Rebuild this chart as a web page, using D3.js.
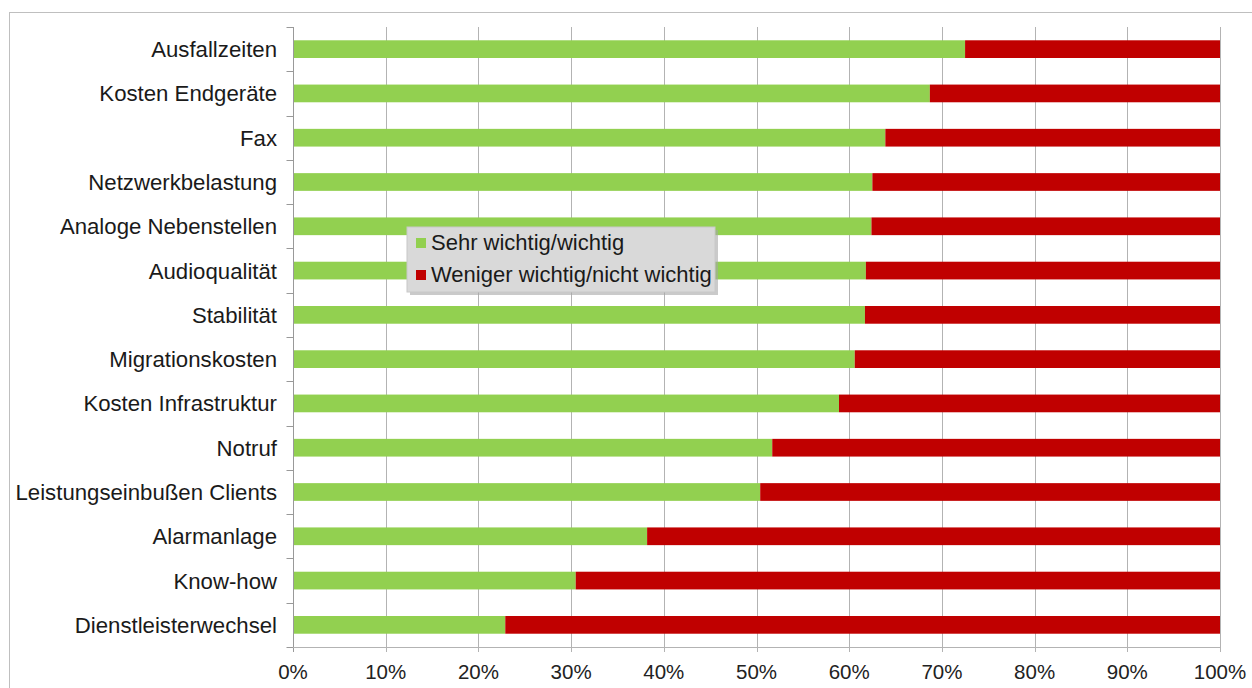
<!DOCTYPE html>
<html><head><meta charset="utf-8">
<script src="https://cdn.jsdelivr.net/npm/d3@7"></script>
<style>body{margin:0;background:#fff;}svg{display:block;font-family:"Liberation Sans",Arial,sans-serif;}</style>
</head><body>
<svg id="c" width="1252" height="688"></svg>
<script>
const categories = ["Ausfallzeiten","Kosten Endgeräte","Fax","Netzwerkbelastung","Analoge Nebenstellen","Audioqualität","Stabilität","Migrationskosten","Kosten Infrastruktur","Notruf","Leistungseinbußen Clients","Alarmanlage","Know-how","Dienstleisterwechsel"];
const sehrWichtig = [72.5,68.7,63.9,62.5,62.4,61.8,61.7,60.6,58.9,51.7,50.4,38.2,30.5,22.9];
const wenigerWichtig = [27.5,31.3,36.1,37.5,37.6,38.2,38.3,39.4,41.1,48.3,49.6,61.8,69.5,77.1];
const seriesNames = ["Sehr wichtig/wichtig","Weniger wichtig/nicht wichtig"];
const colors = ["#92d050","#c00000"];
const xTicks = [0,10,20,30,40,50,60,70,80,90,100];

const svg = d3.select("#c");
const m = {left:293, right:1220, top:27, bottom:647};
svg.append("rect").attr("x",9.5).attr("y",12.5).attr("width",1260).attr("height",700)
  .attr("fill","#fff").attr("stroke","#bfbfbf").attr("stroke-width",1);

const x = d3.scaleLinear().domain([0,100]).range([m.left,m.right]);
const y = d3.scaleBand().domain(categories).range([m.top,m.bottom]).paddingInner(0.6).paddingOuter(0.3);

// gridlines
svg.append("g").selectAll("line").data(xTicks.slice(1)).join("line")
  .attr("x1",d=>Math.round(x(d))+0.5).attr("x2",d=>Math.round(x(d))+0.5)
  .attr("y1",m.top).attr("y2",m.bottom+5).attr("stroke","#b3b3b3").attr("stroke-width",1);

// stacked bars
const rows = categories.map((c,i)=>({c, a:sehrWichtig[i], b:wenigerWichtig[i]}));
const stack = d3.stack().keys(["a","b"])(rows);
svg.append("g").selectAll("g").data(stack).join("g").attr("fill",(d,i)=>colors[i])
  .selectAll("rect").data(d=>d).join("rect")
  .attr("x",d=>x(d[0])).attr("width",d=>x(Math.min(d[1],100))-x(d[0]))
  .attr("y",d=>y(d.data.c)).attr("height",y.bandwidth());

// y axis
const yAxis = svg.append("g").attr("transform",`translate(${m.left+0.5},0)`);
yAxis.append("line").attr("y1",m.top).attr("y2",m.bottom+5).attr("stroke","#999");
const step = (m.bottom-m.top)/categories.length;
yAxis.selectAll("line.t").data(d3.range(categories.length+1)).join("line").attr("class","t")
  .attr("x1",-7).attr("x2",0).attr("y1",i=>Math.round(m.top+i*step)+0.5).attr("y2",i=>Math.round(m.top+i*step)+0.5)
  .attr("stroke","#999");
svg.append("g").selectAll("text").data(categories).join("text")
  .attr("x",277).attr("y",d=>y(d)+y.bandwidth()/2).attr("dy","0.36em")
  .attr("text-anchor","end").attr("font-size","22.2px").attr("fill","#1a1a1a").text(d=>d);

// x axis
svg.append("line").attr("x1",m.left).attr("x2",m.right).attr("y1",m.bottom+0.5).attr("y2",m.bottom+0.5).attr("stroke","#b3b3b3");
svg.append("g").selectAll("text").data(xTicks).join("text")
  .attr("x",d=>x(d)).attr("y",679).attr("text-anchor","middle").attr("font-size","20.5px").attr("fill","#222")
  .text(d=>d+"%");

// legend
const lg = svg.append("g");
lg.append("rect").attr("x",410).attr("y",230).attr("width",308).attr("height",65).attr("fill","#a6a6a6").attr("opacity",0.6);
lg.append("rect").attr("x",407).attr("y",227).attr("width",308).attr("height",65).attr("fill","#d9d9d9").attr("stroke","#c8c8c8");
seriesNames.forEach((n,i)=>{
  lg.append("rect").attr("x",416).attr("y",238+i*32).attr("width",10).attr("height",10).attr("fill",colors[i]);
  lg.append("text").attr("x",431).attr("y",250+i*32).attr("font-size","22px").attr("fill","#1a1a1a").text(n);
});
</script>
</body></html>
